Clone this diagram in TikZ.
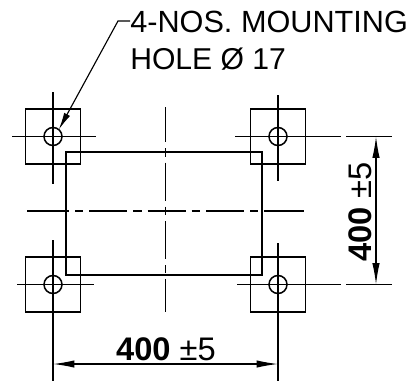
\documentclass[tikz,border=0pt]{standalone}
\usepackage{fontspec}
\setmainfont{Liberation Sans}
\usetikzlibrary{arrows.meta}

\begin{document}
\begin{tikzpicture}
		[x=0.75pt,y=-0.75pt,
		plate/.style= {line width=1.15pt,draw=black,minimum size=41.5pt,inner sep=0pt,outer sep=0pt},
		hole/.style= {line width=1.15pt,circle,draw=black,minimum size=13.5pt,inner sep=0pt,outer sep=0pt},
		centre/.style= {line width=0.85pt},
		frame/.style= {line width=1.2pt},
		chain/.style= {dash pattern=on 28.5pt off 4.5pt on 6.25pt off 4.5pt},
		dim/.style= {line width=0.85pt,{Latex[length=16pt,width=5.5pt]}-{Latex[length=16pt,width=5.5pt]}},
		txt/.style= {inner sep=0pt,font=\fontsize{23pt}{27pt}\selectfont},
		dimtxt/.style= {inner sep=0pt,font=\fontsize{24.5pt}{28pt}\selectfont}]

		\useasboundingbox (0,0) rectangle (413,383);

		% four mounting plates
		\foreach \name/\cx/\cy in {tl/53/136.5,tr/278/136.5,bl/53/284.5,br/278/284.5} {
			\node[plate] (plate\name) at (\cx,\cy) {};
			\node[hole] (hole\name) at (\cx,\cy) {};
		}

		% ends of the centre lines
		\coordinate (tlN) at (53,92);
		\coordinate (tlS) at (53,184);
		\coordinate (tlW) at (12,136.5);
		\coordinate (tlE) at (96,136.5);
		\coordinate (trN) at (278,95);
		\coordinate (trS) at (278,181);
		\coordinate (trW) at (235,136.5);
		\coordinate (trE) at (341,136.5);
		\coordinate (blN) at (53,240);
		\coordinate (blS) at (53,381);
		\coordinate (blW) at (17,284.5);
		\coordinate (blE) at (94,284.5);
		\coordinate (brN) at (278,243);
		\coordinate (brS) at (278,381);
		\coordinate (brW) at (237,284.5);
		\coordinate (brE) at (341,284.5);

		\draw[centre] (tlN) -- (tlS);
		\draw[centre] (tlW) -- (tlE);
		\draw[centre] (trN) -- (trS);
		\draw[centre] (trW) -- (trE);
		\draw[centre] (blN) -- (blS);
		\draw[centre] (blW) -- (blE);
		\draw[centre] (brN) -- (brS);
		\draw[centre] (brW) -- (brE);

		% frame
		\coordinate (frameA) at (66,152);
		\coordinate (frameB) at (262,275);
		\draw[frame] (frameA) rectangle (frameB);

		% middle chain lines
		\coordinate (midN) at (165.7,107);
		\coordinate (midS) at (165.7,312);
		\coordinate (midW) at (31,211);
		\coordinate (midE) at (300,211);
		\coordinate (stubW) at (27,211);
		\coordinate (stubE) at (304,211);
		\draw[line width=1pt,chain,dash phase=2pt] (midN) -- (midS);
		\draw[frame,chain] (midW) -- (midE);
		\draw[frame] (stubW) -- (midW);
		\draw[frame] (midE) -- (stubE);

		% extension lines
		\coordinate (extTa) at (346,136.5);
		\coordinate (extTb) at (392,136.5);
		\coordinate (extBa) at (346,284.5);
		\coordinate (extBb) at (392,284.5);
		\draw[centre] (extTa) -- (extTb);
		\draw[centre] (extBa) -- (extBb);

		% dimensions
		\coordinate (dimL) at (53,364);
		\coordinate (dimR) at (278,364);
		\coordinate (dimT) at (376,136.5);
		\coordinate (dimB) at (376,284.5);
		\draw[dim] (dimL) -- (dimR);
		\draw[dim] (dimT) -- (dimB);

		\node[dimtxt,anchor=base] (widthtxt) at (166,360) {\textbf{400} ±5};
		\node[dimtxt,anchor=base,rotate=90] (heighttxt) at (371,212) {\textbf{400} ±5};

		% note
		\node[txt,anchor=base west] (note1) at (130,32) {4-NOS. MOUNTING};
		\node[txt,anchor=base west,font=\fontsize{22.6pt}{27pt}\selectfont] (note2) at (130,69) {HOLE Ø 17};

		\coordinate (bend) at (118,21);
		\coordinate (noteend) at (130,21);
		\draw[centre,-{Latex[length=13pt,width=5pt]}] (noteend) -- (bend) -- (holetl.50);

	\end{tikzpicture}
\end{document}
